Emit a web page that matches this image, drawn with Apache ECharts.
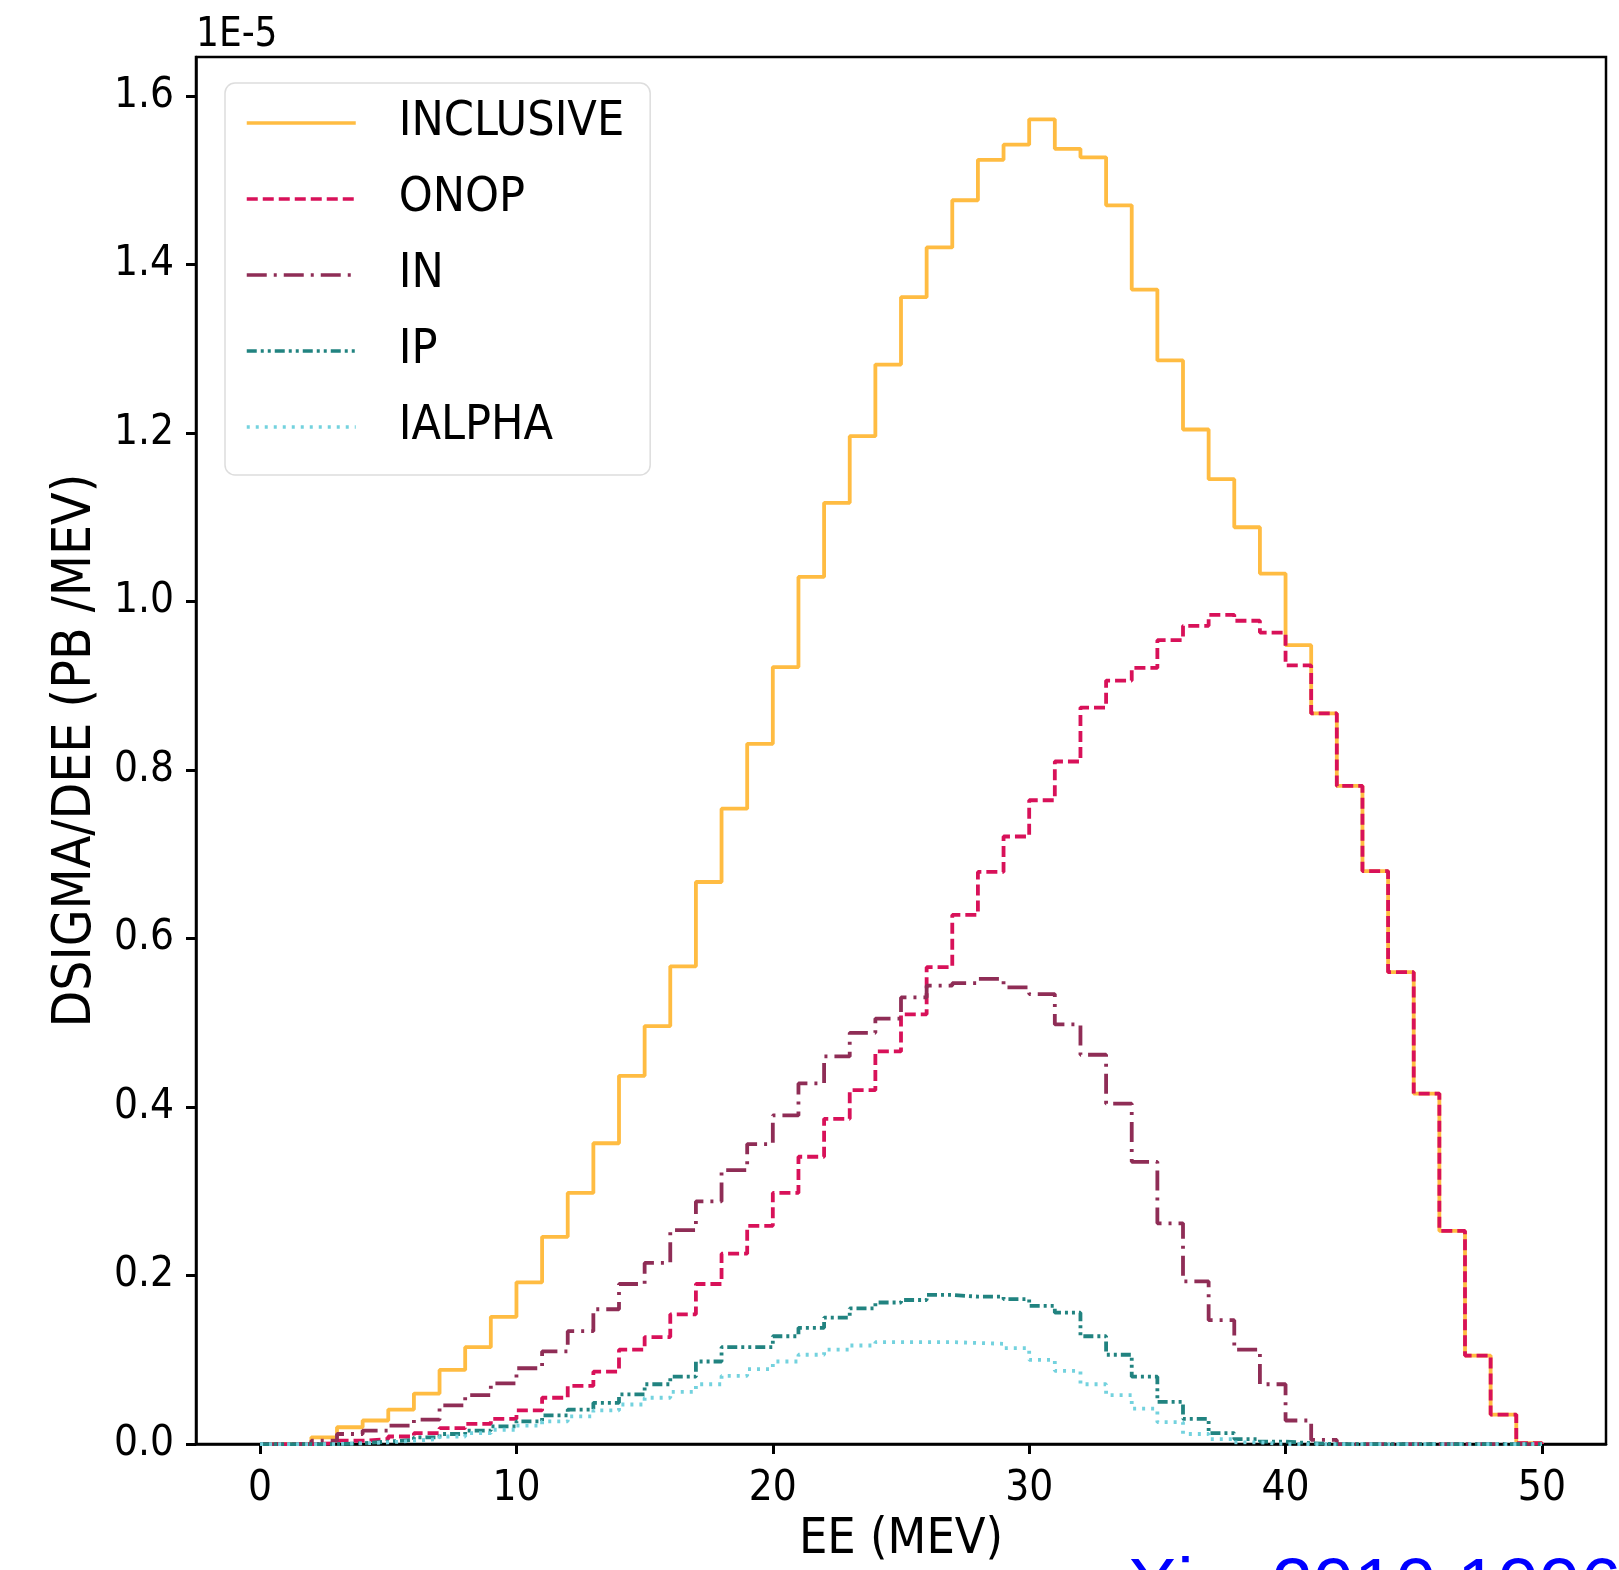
<!DOCTYPE html>
<html>
<head>
<meta charset="utf-8">
<title>dsigma/dEe</title>
<script src="https://cdn.jsdelivr.net/npm/echarts@6/dist/echarts.min.js"></script>
<style>
  html, body { margin: 0; padding: 0; background: #ffffff; }
  #chart { width: 1619px; height: 1570px; }
</style>
</head>
<body>
<div id="chart"></div>
<script>
// ---- data (1 MeV bins, left edges 0..49, final edge 50) ----
const binEdges = [0,1,2,3,4,5,6,7,8,9,10,11,12,13,14,15,16,17,18,19,20,21,22,23,24,25,26,27,28,29,30,31,32,33,34,35,36,37,38,39,40,41,42,43,44,45,46,47,48,49,50];
const seriesNames = ['INCLUSIVE', 'ONOP', 'IN', 'IP', 'IALPHA'];
const xTickValues = [0, 10, 20, 30, 40, 50];
const yTickValues = [0, 0.2, 0.4, 0.6, 0.8, 1.0, 1.2, 1.4, 1.6];

const inclusive = [0,0,0.008,0.020,0.028,0.041,0.060,0.088,0.115,0.151,0.192,0.246,0.298,0.357,0.437,0.496,0.567,0.667,0.754,0.831,0.922,1.029,1.117,1.196,1.281,1.361,1.420,1.476,1.524,1.542,1.572,1.537,1.527,1.470,1.370,1.286,1.204,1.145,1.088,1.033,0.948,0.867,0.781,0.680,0.560,0.416,0.253,0.105,0.035,0.001];
const onop = [0,0,0.001,0.004,0.006,0.009,0.013,0.019,0.024,0.030,0.040,0.055,0.069,0.086,0.112,0.127,0.154,0.190,0.226,0.259,0.298,0.341,0.386,0.420,0.466,0.510,0.566,0.628,0.679,0.721,0.764,0.810,0.874,0.906,0.921,0.954,0.971,0.984,0.977,0.963,0.924,0.867,0.781,0.680,0.560,0.416,0.253,0.105,0.035,0.001];
const inN = [0,0,0.004,0.012,0.016,0.022,0.029,0.046,0.058,0.072,0.090,0.110,0.134,0.160,0.190,0.215,0.254,0.288,0.325,0.356,0.390,0.428,0.460,0.488,0.505,0.530,0.544,0.547,0.552,0.542,0.534,0.498,0.462,0.404,0.335,0.262,0.193,0.147,0.112,0.071,0.028,0.005,0,0,0,0,0,0,0,0];
const ip = [0,0,0,0.001,0.003,0.005,0.008,0.012,0.016,0.021,0.027,0.034,0.041,0.049,0.059,0.071,0.080,0.098,0.115,0.115,0.128,0.138,0.150,0.161,0.168,0.171,0.177,0.175,0.175,0.172,0.164,0.156,0.128,0.106,0.080,0.050,0.030,0.013,0.006,0.003,0.001,0,0,0,0,0,0,0,0,0];
const ialpha = [0,0,0,0.001,0.002,0.004,0.006,0.009,0.013,0.017,0.022,0.027,0.033,0.040,0.047,0.055,0.062,0.071,0.081,0.089,0.098,0.106,0.112,0.117,0.121,0.121,0.121,0.120,0.119,0.114,0.100,0.087,0.071,0.058,0.042,0.026,0.012,0.006,0.002,0,0,0,0,0,0,0,0,0,0,0];

// ---- helpers ----
function stepPairs(vals) {
  const out = [];
  for (let i = 0; i < vals.length; i++) out.push([binEdges[i], vals[i]]);
  out.push([binEdges[vals.length], 0]);
  return out;
}

const FONT = "'DejaVu Sans Condensed', 'Liberation Sans Narrow', 'DejaVu Sans', sans-serif";
const colors = ['#ffbc42', '#d81159', '#8f2d56', '#218380', '#73d2de'];
const dashes = ['solid', [11, 5], [20, 7, 3, 7], [10, 4, 3, 4, 3, 4], [3, 6]];
const valuesList = [inclusive, onop, inN, ip, ialpha];

const series = seriesNames.map((name, i) => ({
  name: name,
  type: 'line',
  step: 'end',
  data: stepPairs(valuesList[i]),
  symbol: 'none',
  showSymbol: false,
  silent: true,
  z: 2 + i,
  lineStyle: { color: colors[i], width: 3.8, type: dashes[i], cap: 'butt' },
  itemStyle: { color: colors[i] }
}));

const chart = echarts.init(document.getElementById('chart'), null, { renderer: 'canvas' });
chart.setOption({
  animation: false,
  backgroundColor: '#ffffff',
  grid: {
    left: 196, right: 13, top: 57, bottom: 116,
    show: true, borderColor: '#000000', borderWidth: 2.5, backgroundColor: 'transparent'
  },
  xAxis: {
    type: 'value',
    min: -2.5, max: 52.5,
    name: 'EE (MEV)',
    nameLocation: 'middle',
    nameGap: 70,
    nameTextStyle: { fontFamily: FONT, fontSize: 50, color: '#000' },
    axisLine: { show: true, onZero: false, lineStyle: { color: '#000', width: 2.5 } },
    axisTick: { show: true, length: 10, customValues: xTickValues, lineStyle: { color: '#000', width: 3 } },
    axisLabel: { customValues: xTickValues, margin: 24, fontFamily: FONT, fontSize: 42, color: '#000' },
    splitLine: { show: false }
  },
  yAxis: {
    type: 'value',
    min: 0, max: 1.646,
    name: 'DSIGMA/DEE (PB /MEV)',
    nameLocation: 'middle',
    nameRotate: 90,
    nameGap: 90,
    nameTextStyle: { fontFamily: FONT, fontSize: 53, color: '#000' },
    axisLine: { show: true, onZero: false, lineStyle: { color: '#000', width: 2.5 } },
    axisTick: { show: true, length: 10, customValues: yTickValues, lineStyle: { color: '#000', width: 3 } },
    axisLabel: {
      customValues: yTickValues, margin: 22, fontFamily: FONT, fontSize: 42, color: '#000',
      formatter: v => v.toFixed(1)
    },
    splitLine: { show: false }
  },
  legend: {
    orient: 'vertical',
    left: 225, top: 83,
    padding: [12, 26, 20, 20],
    itemWidth: 109,
    itemHeight: 14,
    itemGap: 20,
    backgroundColor: '#ffffff',
    borderColor: '#dddddd',
    borderWidth: 1.5,
    borderRadius: 10,
    data: seriesNames,
    selectedMode: false,
    itemStyle: { opacity: 0 },
    lineStyle: { width: 3.5 },
    textStyle: { fontFamily: FONT, fontSize: 48, color: '#000', lineHeight: 56, padding: [0, 0, 0, 38] }
  },
  graphic: [
    {
      type: 'text', left: 196, top: 16, silent: true,
      style: { text: '1E-5', fontFamily: FONT, fontSize: 40, fill: '#000' }
    },
    {
      type: 'text', left: 1062, top: 1553, silent: true,
      style: { text: 'arXiv: 2010.19961', fontFamily: "'Liberation Sans', Arial, sans-serif", fontSize: 74, fill: '#0000ff' }
    }
  ],
  series: series
});
</script>
</body>
</html>
